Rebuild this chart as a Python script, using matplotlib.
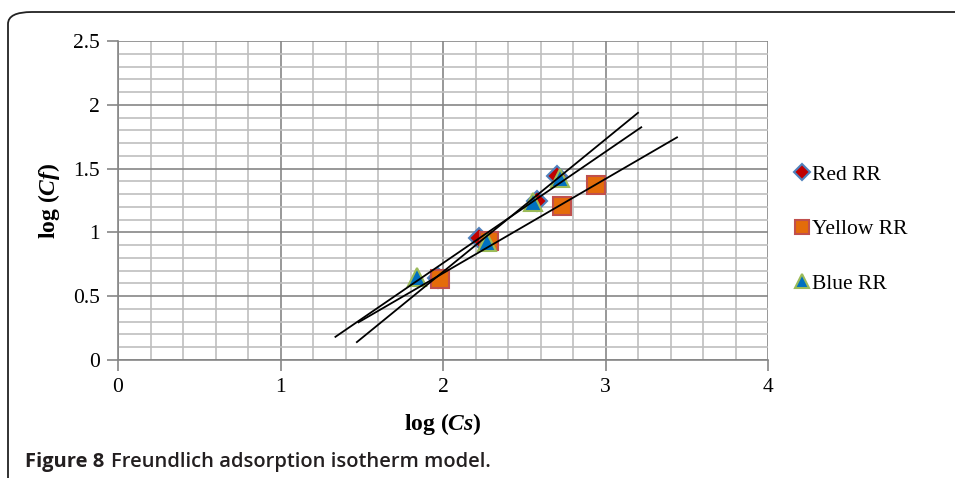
import numpy as np
import matplotlib
matplotlib.use('Agg')
import matplotlib.pyplot as plt
from matplotlib.patches import FancyBboxPatch

plt.rcParams['font.family'] = 'Liberation Serif'
plt.rcParams['mathtext.fontset'] = 'custom'
plt.rcParams['mathtext.rm'] = 'Liberation Serif:bold'
plt.rcParams['mathtext.bf'] = 'Liberation Serif:bold'
plt.rcParams['mathtext.bfit'] = 'Liberation Serif:bold:italic'
plt.rcParams['mathtext.it'] = 'Liberation Serif:bold:italic'

# data (log Cs, log Cf)
red_x = [1.97, 2.22, 2.58, 2.70]
red_y = [0.64, 0.96, 1.25, 1.44]
yellow_x = [1.98, 2.28, 2.73, 2.94]
yellow_y = [0.635, 0.935, 1.207, 1.37]
blue_x = [1.838, 2.269, 2.556, 2.72]
blue_y = [0.653, 0.927, 1.24, 1.424]

series = [
    ('Red RR', red_x, red_y, 'D', '#C00000', '#4F81BD', 10),
    ('Yellow RR', yellow_x, yellow_y, 's', '#E46C0A', '#C0504D', 12.5),
    ('Blue RR', blue_x, blue_y, '^', '#0070C0', '#9BBB59', 12.5),
]

fig = plt.figure(figsize=(9.55, 4.78), dpi=100)
ax = fig.add_axes([118/955, 1-360/478, 650/955, 319/478])

# rounded frame around the figure
frame = FancyBboxPatch((8/955, -0.2), 1.2, (1-12/478) + 0.2,
                       boxstyle='round,pad=0,rounding_size=0.025',
                       transform=fig.transFigure, fill=False,
                       edgecolor='#222222', linewidth=1.3, clip_on=False)
fig.patches.append(frame)

for name, xs, ys, mk, fc, ec, ms in series:
    ax.plot(xs, ys, linestyle='none', marker=mk, markersize=ms,
            markerfacecolor=fc, markeredgecolor=ec, markeredgewidth=1.5,
            label=name, zorder=3)

# linear trendlines, extended 0.5 forward and backward
for name, xs, ys, mk, fc, ec, ms in series:
    k, b = np.polyfit(xs, ys, 1)
    xx = np.array([min(xs) - 0.5, max(xs) + 0.5])
    ax.plot(xx, k * xx + b, color='black', linewidth=1.3, zorder=4)

ax.set_xlim(0, 4)
ax.set_ylim(0, 2.5)
ax.set_xticks(np.arange(0, 4.01, 1))
ax.set_yticks(np.arange(0, 2.51, 0.5))
ax.set_xticklabels(['0', '1', '2', '3', '4'])
ax.set_yticklabels(['0', '0.5', '1', '1.5', '2', '2.5'])
ax.set_xticks(np.arange(0, 4.01, 0.2), minor=True)
ax.set_yticks(np.arange(0, 2.51, 0.1), minor=True)
ax.grid(which='minor', color='#BFBFBF', linewidth=1.2, zorder=0)
ax.grid(which='major', color='#868686', linewidth=1.2, zorder=1)
ax.set_axisbelow(True)
ax.tick_params(which='major', length=8, width=1.2, color='#868686',
               labelsize=15.5, pad=5)
ax.tick_params(which='minor', length=0)
for s in ax.spines.values():
    s.set_visible(False)
ax.spines['left'].set_visible(True)
ax.spines['bottom'].set_visible(True)
ax.spines['left'].set_color('#868686')
ax.spines['bottom'].set_color('#868686')
ax.spines['left'].set_linewidth(1.2)
ax.spines['bottom'].set_linewidth(1.2)

ax.set_xlabel(r'log ($\mathbfit{Cs}$)', fontsize=17, fontweight='bold', labelpad=10)
ax.set_ylabel(r'log ($\mathbfit{Cf}$)', fontsize=17, fontweight='bold', labelpad=8)

ax.legend(loc='center left', bbox_to_anchor=(1.022, 0.41), frameon=False,
          fontsize=15.5, handletextpad=0.0, labelspacing=1.6,
          handlelength=1.0, borderaxespad=0, markerscale=0.85)

fig.text(25/955, 1-462/478, 'Figure 8', fontsize=14.5, fontweight='bold',
         family='Open Sans', va='center', ha='left', color='#231F20')
fig.text(111/955, 1-462/478, 'Freundlich adsorption isotherm model.', fontsize=14.5,
         fontweight='semibold', family='Open Sans', va='center', ha='left',
         color='#231F20')

fig.savefig('out.png', dpi=100)
